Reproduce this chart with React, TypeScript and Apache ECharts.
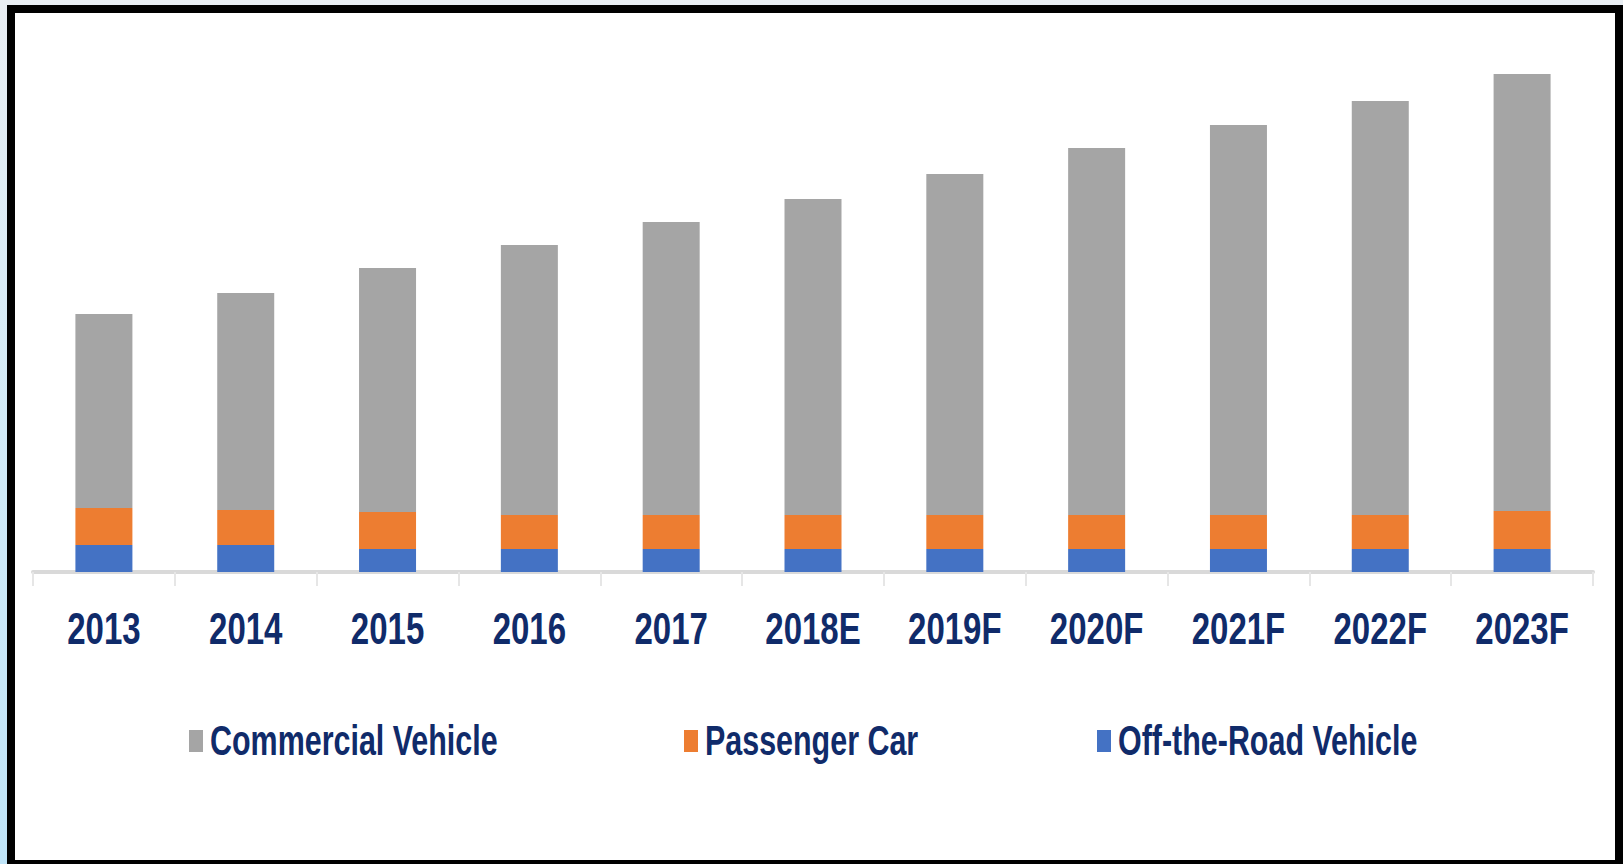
import React, { useEffect, useRef } from "react";
import * as echarts from "echarts";

const categories = ["2013", "2014", "2015", "2016", "2017", "2018E", "2019F", "2020F", "2021F", "2022F", "2023F"];
const offRoadVehicle = [5.4, 5.4, 4.6, 4.6, 4.6, 4.6, 4.6, 4.6, 4.6, 4.6, 4.6];
const passengerCar = [7.4, 7.0, 7.4, 6.8, 6.8, 6.8, 6.8, 6.8, 6.8, 6.8, 7.6];
const commercialVehicle = [38.8, 43.4, 48.8, 54.0, 58.6, 63.2, 68.2, 73.4, 78.0, 82.8, 87.4];

const seriesNames = ["Commercial Vehicle", "Passenger Car", "Off-the-Road Vehicle"];
const seriesColors = ["#a5a5a5", "#ed7d31", "#4472c4"];

const NAVY = "#102b6a";
const FONT = "'Liberation Sans', Arial, sans-serif";

export default function App() {
  const ref = useRef<HTMLDivElement>(null);

  useEffect(() => {
    if (!ref.current) return;
    const chart = echarts.init(ref.current, undefined, { renderer: "svg" });
    chart.setOption({
      animation: false,
      backgroundColor: "transparent",
      grid: { left: 33, right: 30, top: 72, bottom: 292 },
      legend: { show: false, data: seriesNames },
      xAxis: {
        type: "category",
        data: categories,
        axisLine: { show: true, lineStyle: { color: "#d9d9d9", width: 4 } },
        axisTick: { show: true, length: 14, lineStyle: { color: "#e6e6e6", width: 2 } },
        axisLabel: { show: false },
      },
      yAxis: {
        type: "value",
        min: 0,
        max: 100,
        show: false,
        splitLine: { show: false },
      },
      series: [
        {
          name: seriesNames[2],
          type: "bar",
          stack: "total",
          barWidth: 57,
          data: offRoadVehicle,
          itemStyle: { color: seriesColors[2] },
        },
        {
          name: seriesNames[1],
          type: "bar",
          stack: "total",
          barWidth: 57,
          data: passengerCar,
          itemStyle: { color: seriesColors[1] },
        },
        {
          name: seriesNames[0],
          type: "bar",
          stack: "total",
          barWidth: 57,
          data: commercialVehicle,
          itemStyle: { color: seriesColors[0] },
        },
      ],
    });

    // Condensed category labels, placed through the category axis scale
    const labelEls = categories.map((c) => {
      const px = chart.convertToPixel({ xAxisIndex: 0 }, c) as number;
      return {
        type: "text",
        x: px,
        y: 629,
        scaleX: 0.75,
        silent: true,
        style: {
          text: c,
          fill: NAVY,
          font: `bold 44px ${FONT}`,
          textAlign: "center",
          textVerticalAlign: "middle",
        },
      };
    });

    // Legend (condensed text), one item per series
    const legendLeft = [189, 684, 1097];
    const legendEls: any[] = [];
    seriesNames.forEach((name, i) => {
      legendEls.push({
        type: "rect",
        shape: { x: legendLeft[i], y: 730, width: 14, height: 22 },
        style: { fill: seriesColors[i] },
        silent: true,
      });
      legendEls.push({
        type: "text",
        x: legendLeft[i] + 21,
        y: 741,
        scaleX: 0.725,
        silent: true,
        style: {
          text: name,
          fill: NAVY,
          font: `bold 42px ${FONT}`,
          textAlign: "left",
          textVerticalAlign: "middle",
        },
      });
    });

    chart.setOption({ graphic: [...labelEls, ...legendEls] });
    return () => chart.dispose();
  }, []);

  return (
    <div
      style={{
        position: "fixed",
        left: 0,
        top: 0,
        width: 1623,
        height: 864,
        overflow: "hidden",
        background: "linear-gradient(180deg, #e9eef3 0%, #d2ebf8 50%, #bfe4f8 100%)",
      }}
    >
      <div
        style={{
          position: "absolute",
          left: 7,
          top: 5,
          width: 1616,
          height: 859,
          boxSizing: "border-box",
          borderTop: "8px solid #000",
          borderLeft: "8px solid #000",
          borderRight: "8px solid #000",
          borderBottom: "4px solid #000",
          background: "#fff",
        }}
      />
      <div ref={ref} style={{ position: "absolute", left: 0, top: 0, width: 1623, height: 864 }} />
    </div>
  );
}
